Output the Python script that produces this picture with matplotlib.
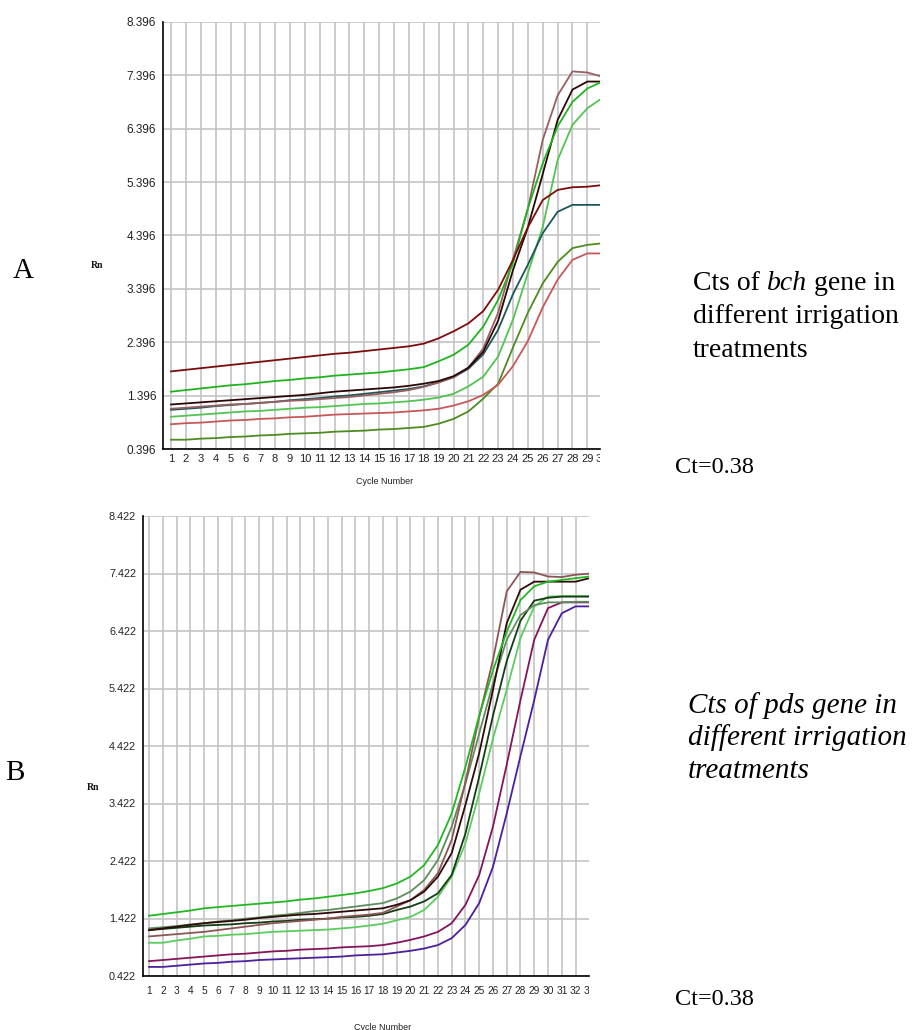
import matplotlib
matplotlib.use("Agg")
import matplotlib.pyplot as plt
from matplotlib.transforms import Bbox, TransformedBbox, offset_copy

# ---------- data: panel A (bch) ----------
A_CYCLES = list(range(1, 31))
A_YTICKS = [0.396, 1.396, 2.396, 3.396, 4.396, 5.396, 6.396, 7.396, 8.396]

A_DARK_RED = [1.85, 1.88, 1.91, 1.94, 1.97, 2.00, 2.03, 2.06, 2.09, 2.12, 2.15, 2.18, 2.20, 2.23, 2.26,
              2.29, 2.32, 2.37, 2.47, 2.60, 2.75, 2.98, 3.38, 3.94, 4.55, 5.06, 5.25, 5.30, 5.31, 5.34]
A_GREEN = [1.47, 1.50, 1.53, 1.56, 1.59, 1.61, 1.64, 1.67, 1.69, 1.72, 1.74, 1.77, 1.79, 1.81, 1.83,
           1.86, 1.89, 1.93, 2.04, 2.16, 2.35, 2.69, 3.19, 3.88, 4.90, 5.75, 6.44, 6.90, 7.15, 7.28]
A_BLACK = [1.23, 1.25, 1.27, 1.29, 1.31, 1.33, 1.35, 1.37, 1.39, 1.41, 1.44, 1.47, 1.49, 1.51, 1.53,
           1.55, 1.58, 1.62, 1.67, 1.76, 1.92, 2.22, 2.80, 3.75, 4.55, 5.55, 6.56, 7.13, 7.28, 7.28]
A_TEAL = [1.13, 1.15, 1.17, 1.20, 1.22, 1.24, 1.26, 1.28, 1.31, 1.33, 1.35, 1.38, 1.40, 1.43, 1.46,
          1.49, 1.52, 1.57, 1.65, 1.74, 1.90, 2.17, 2.63, 3.30, 3.85, 4.44, 4.84, 4.97, 4.97, 4.97]
A_BROWN = [1.15, 1.17, 1.19, 1.21, 1.23, 1.24, 1.26, 1.28, 1.30, 1.31, 1.33, 1.35, 1.37, 1.40, 1.43,
           1.46, 1.50, 1.56, 1.64, 1.74, 1.92, 2.28, 2.95, 3.95, 4.90, 6.19, 7.02, 7.47, 7.45, 7.37]
A_LIGHT = [1.00, 1.02, 1.04, 1.06, 1.08, 1.10, 1.11, 1.13, 1.15, 1.17, 1.18, 1.20, 1.22, 1.24, 1.25,
           1.27, 1.29, 1.32, 1.36, 1.43, 1.57, 1.75, 2.13, 2.82, 3.69, 4.56, 5.81, 6.47, 6.78, 6.97]
A_PINK = [0.86, 0.88, 0.89, 0.91, 0.93, 0.94, 0.96, 0.97, 0.99, 1.00, 1.02, 1.04, 1.05, 1.06, 1.07,
          1.08, 1.10, 1.12, 1.15, 1.21, 1.29, 1.41, 1.60, 1.95, 2.42, 3.05, 3.57, 3.94, 4.06, 4.06]
A_OLIVE = [0.57, 0.57, 0.59, 0.60, 0.62, 0.63, 0.65, 0.66, 0.68, 0.69, 0.70, 0.72, 0.73, 0.74, 0.76,
           0.77, 0.79, 0.81, 0.87, 0.96, 1.10, 1.34, 1.62, 2.30, 2.95, 3.50, 3.90, 4.16, 4.22, 4.25]

# ---------- data: panel B (pds) ----------
B_CYCLES = list(range(1, 34))
B_YTICKS = [0.422, 1.422, 2.422, 3.422, 4.422, 5.422, 6.422, 7.422, 8.422]

B_GREEN = [1.47, 1.50, 1.53, 1.56, 1.60, 1.62, 1.64, 1.66, 1.68, 1.70, 1.72, 1.75, 1.77, 1.80, 1.83, 1.86, 1.90,
           1.95, 2.03, 2.15, 2.35, 2.70, 3.25, 4.06, 4.95, 5.74, 6.41, 6.96, 7.20, 7.28, 7.31, 7.34, 7.37]
B_GRAYGREEN = [1.25, 1.27, 1.29, 1.32, 1.34, 1.37, 1.39, 1.42, 1.44, 1.47, 1.49, 1.52, 1.55, 1.57, 1.60, 1.63, 1.66,
               1.69, 1.77, 1.89, 2.09, 2.44, 3.02, 3.77, 4.64, 5.51, 6.27, 6.70, 6.87, 6.92, 6.92, 6.93, 6.93]
B_BLACK = [1.22, 1.25, 1.28, 1.31, 1.34, 1.36, 1.38, 1.40, 1.43, 1.45, 1.47, 1.49, 1.50, 1.52, 1.54, 1.56, 1.58,
           1.60, 1.66, 1.74, 1.89, 2.15, 2.56, 3.40, 4.30, 5.40, 6.56, 7.14, 7.28, 7.28, 7.28, 7.28, 7.34]
B_BROWN = [1.11, 1.13, 1.15, 1.17, 1.19, 1.22, 1.25, 1.28, 1.31, 1.34, 1.36, 1.38, 1.40, 1.42, 1.45, 1.47, 1.49,
           1.52, 1.63, 1.74, 1.92, 2.21, 2.79, 3.80, 4.93, 5.92, 7.11, 7.45, 7.44, 7.37, 7.36, 7.40, 7.42]
B_DARKGREEN = [1.22, 1.24, 1.26, 1.28, 1.30, 1.31, 1.32, 1.34, 1.35, 1.37, 1.38, 1.40, 1.41, 1.42, 1.44, 1.45, 1.47,
               1.50, 1.57, 1.63, 1.72, 1.86, 2.18, 2.90, 3.89, 4.95, 5.90, 6.60, 6.95, 7.00, 7.02, 7.02, 7.02]
B_LIGHT = [1.00, 1.00, 1.04, 1.07, 1.11, 1.12, 1.14, 1.15, 1.17, 1.19, 1.20, 1.21, 1.22, 1.23, 1.25, 1.27, 1.30,
           1.33, 1.39, 1.45, 1.57, 1.80, 2.15, 2.73, 3.60, 4.55, 5.40, 6.30, 6.85, 7.02, 7.03, 7.03, 7.03]
B_MAGENTA = [0.68, 0.70, 0.72, 0.74, 0.76, 0.78, 0.80, 0.81, 0.83, 0.85, 0.86, 0.88, 0.89, 0.90, 0.92, 0.93, 0.94,
             0.96, 1.00, 1.05, 1.11, 1.19, 1.34, 1.66, 2.18, 3.02, 4.10, 5.22, 6.27, 6.82, 6.92, 6.92, 6.92]
B_INDIGO = [0.58, 0.58, 0.60, 0.62, 0.64, 0.65, 0.67, 0.68, 0.70, 0.71, 0.72, 0.73, 0.74, 0.75, 0.76, 0.78, 0.79,
            0.80, 0.83, 0.86, 0.90, 0.96, 1.08, 1.31, 1.69, 2.32, 3.25, 4.25, 5.22, 6.27, 6.73, 6.85, 6.85]

# ---------- style ----------
GRID = "#c4c4c4"
TICK_FONT = "Liberation Sans"
SERIF = "Liberation Serif"

A_SERIES = [(A_OLIVE, "#4f8c1f"), (A_PINK, "#c85858"), (A_LIGHT, "#52c452"), (A_TEAL, "#1d5656"),
            (A_BROWN, "#986060"), (A_BLACK, "#2b0606"), (A_GREEN, "#1fb41f"), (A_DARK_RED, "#7b0c0c")]
B_SERIES = [(B_INDIGO, "#4a209c"), (B_MAGENTA, "#86145a"), (B_LIGHT, "#5ccc5c"), (B_DARKGREEN, "#143c14"),
            (B_GRAYGREEN, "#5e8e5e"), (B_BROWN, "#8c5656"), (B_BLACK, "#2e0a0a"), (B_GREEN, "#22b822")]

fig = plt.figure(figsize=(9.14, 10.3), dpi=100)
fig.patch.set_facecolor("white")


def make_panel(rect, cycles, yticks, series, xlim, fs, yfs, xpad):
    ax = fig.add_axes(rect)
    for vals, color in series:
        ax.plot(cycles, vals, color=color, lw=1.3, zorder=3)
    ax.set_xticks(cycles)
    ax.set_yticks(yticks)
    ax.set_yticklabels([f"{v:.3f}" for v in yticks])
    ax.set_xlim(*xlim)
    ax.set_ylim(yticks[0], yticks[-1])
    ax.grid(True, color=GRID, lw=1.2, zorder=0)
    ax.set_axisbelow(True)
    for s in ("top", "right"):
        ax.spines[s].set_visible(False)
    for s in ("left", "bottom"):
        ax.spines[s].set_color("black")
        ax.spines[s].set_linewidth(1.2)
        ax.spines[s].set_zorder(4)
    ax.tick_params(axis="both", length=0, labelcolor="#222222")
    ax.tick_params(axis="x", pad=xpad, labelsize=fs)
    ax.tick_params(axis="y", pad=5, labelsize=yfs)
    for lab in ax.get_xticklabels() + ax.get_yticklabels():
        lab.set_family(TICK_FONT)
    # last cycle label, cut off at the right edge like in the instrument export
    last = cycles[-1]
    t = fig.text(last, 0, str(last), ha="center", va="top", fontsize=fs, family=TICK_FONT,
                 color="#222222",
                 transform=offset_copy(ax.get_xaxis_transform(), fig=fig, y=-xpad, units="points"))
    t.set_clip_on(True)
    t.set_clip_box(TransformedBbox(Bbox([[0, 0], [rect[0] + rect[2], 1]]), fig.transFigure))
    return ax


W, H = 914.0, 1030.0
ax_a = make_panel([163 / W, 1 - 449 / H, 437 / W, 427 / H], A_CYCLES, A_YTICKS, A_SERIES,
                  (0.46, 29.85), 8, 8.5, 3.5)
ax_b = make_panel([143 / W, 1 - 976 / H, 446 / W, 460 / H], B_CYCLES, B_YTICKS, B_SERIES,
                  (0.56, 32.98), 7.3, 7.8, 7)

# ---------- axis captions ----------
for x, y, txt in [(385, 481, "Cycle Number"), (383, 1027, "Cycle Number")]:
    fig.text(x / W, 1 - y / H, txt, ha="center", va="center", fontsize=6.5,
             family=["Liberation Sans Narrow", TICK_FONT], color="#222222")
for x, y in [(97, 266), (93, 788)]:
    fig.text(x / W, 1 - y / H, "Rn", ha="center", va="center", fontsize=7, family=SERIF,
             weight="bold", color="#111111")

fig.text(13 / W, 1 - 278 / H, "A", fontsize=21, family=SERIF, va="baseline")
fig.text(5 / W, 1 - 780 / H, "B", fontsize=21, family=SERIF, va="baseline")

# ---------- side notes ----------
renderer = fig.canvas.get_renderer()


def text_width(s, size, style):
    t = fig.text(0, 0, s, fontsize=size, family=SERIF, style=style)
    w = t.get_window_extent(renderer).width / fig.bbox.width
    t.remove()
    return w


def draw_runs(x, y, runs, size):
    space = text_width("x x", size, "normal") - text_width("xx", size, "normal")
    for i, (s, style) in enumerate(runs):
        if i > 0:
            x += space
        fig.text(x, y, s, fontsize=size, family=SERIF, style=style, va="baseline")
        x += text_width(s, size, style)


CAP = 20
draw_runs(693 / W, 1 - 290 / H, [("Cts of", "normal"), ("bch", "italic"), ("gene in", "normal")], CAP)
fig.text(693 / W, 1 - 323 / H, "different irrigation", fontsize=CAP, family=SERIF, va="baseline")
fig.text(693 / W, 1 - 357 / H, "treatments", fontsize=CAP, family=SERIF, va="baseline")
fig.text(675 / W, 1 - 473 / H, "Ct=0.38", fontsize=17.5, family=SERIF, va="baseline")

for y, line in [(713, "Cts of pds gene in"), (745, "different irrigation"), (778, "treatments")]:
    fig.text(688 / W, 1 - y / H, line, fontsize=21, family=SERIF, style="italic", va="baseline")
fig.text(675 / W, 1 - 1005 / H, "Ct=0.38", fontsize=17.5, family=SERIF, va="baseline")

fig.savefig("out.png", dpi=100, facecolor="white")
